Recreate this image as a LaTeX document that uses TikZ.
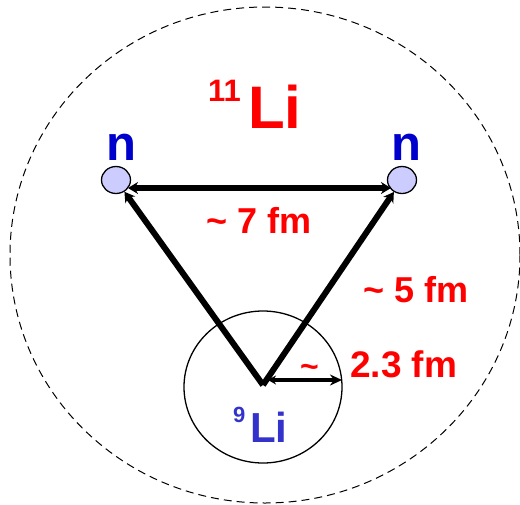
\documentclass[tikz,border=0pt]{standalone}
\usepackage{fontspec}
\setmainfont{Liberation Sans}
\usetikzlibrary{arrows.meta,shapes.geometric}
\definecolor{lired}{RGB}{255,0,0}
\definecolor{nblue}{RGB}{0,0,204}
\definecolor{coreblue}{RGB}{51,51,204}
\definecolor{nfill}{RGB}{204,204,255}
\tikzset{
  neutron/.style={ellipse,draw=black,line width=1.3pt,fill=nfill,minimum width=29pt,minimum height=27pt,inner sep=0pt},
  lbl/.style={anchor=base west,inner sep=0pt,font=\bfseries},
  bigarrow/.style={line width=6pt,-{Stealth[length=10pt,width=12pt]}},
  bothway/.style={line width=5.5pt,{Stealth[length=10pt,width=12pt]}-{Stealth[length=10pt,width=12pt]}},
  radarrow/.style={line width=3.8pt,{Stealth[length=8pt,width=9pt]}-{Stealth[length=12pt,width=11pt]}}
}
\begin{document}
\begin{tikzpicture}[x=1pt,y=-1pt]
\useasboundingbox (0,0) rectangle (520,504);
% outer dashed halo
\node[ellipse,draw=black,line width=1pt,dash pattern=on 8pt off 5pt,minimum width=510pt,minimum height=496pt,inner sep=0pt] (halo) at (265,255) {};
% core
\node[ellipse,draw=black,line width=1.3pt,minimum width=158pt,minimum height=152pt,inner sep=0pt] (core) at (263,387) {};
% neutrons
\node[neutron] (nL) at (116,180) {};
\node[neutron] (nR) at (402,180) {};
\coordinate (V) at (263,385);
\coordinate (hL) at (128,188);
\coordinate (hR) at (391,188);
\coordinate (rS) at (268,380);
\coordinate (rE) at (342,380);
% connectors
\draw[bigarrow] (V) -- (nL);
\draw[bigarrow] (V) -- (nR);
\draw[bothway] (hR) -- (hL);
\draw[radarrow] (rS) -- (rE);
% labels
\node[lbl,text=lired,font=\bfseries\fontsize{31}{31}\selectfont] (sup11) at (208,101) {11};
\node[lbl,text=lired,font=\bfseries\fontsize{60}{60}\selectfont] (Li11) at (248,128) {Li};
\node[lbl,text=nblue,font=\bfseries\fontsize{49}{49}\selectfont] (nLt) at (106,160) {n};
\node[lbl,text=nblue,font=\bfseries\fontsize{49}{49}\selectfont] (nRt) at (391,160) {n};
\node[lbl,text=lired,font=\bfseries\fontsize{36}{36}\selectfont] (d7) at (206,233) {\char`~\ 7 fm};
\node[lbl,text=lired,font=\bfseries\fontsize{36}{36}\selectfont] (d5) at (363,302) {\char`~\ 5 fm};
\node[lbl,text=lired,font=\bfseries\fontsize{32}{32}\selectfont] (tl) at (300,377) {\char`~};
\node[lbl,text=lired,font=\bfseries\fontsize{37}{37}\selectfont] (d23) at (350,377) {2.3 fm};
\node[lbl,text=coreblue,font=\bfseries\fontsize{22}{22}\selectfont] (sup9) at (233,422) {9};
\node[lbl,text=coreblue,font=\bfseries\fontsize{42}{42}\selectfont] (Li9) at (250,442) {Li};
\end{tikzpicture}
\end{document}
